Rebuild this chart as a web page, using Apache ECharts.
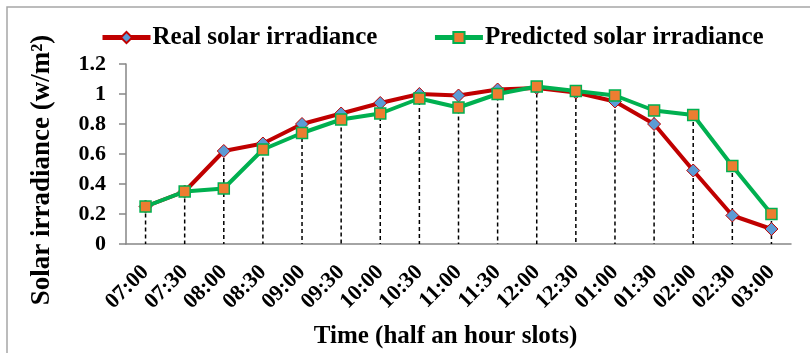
<!DOCTYPE html>
<html>
<head>
<meta charset="utf-8">
<script src="https://cdn.jsdelivr.net/npm/echarts@6/dist/echarts.min.js"></script>
<style>
  html, body { margin: 0; padding: 0; background: #fff; }
  #chart { width: 810px; height: 353px; }
</style>
</head>
<body>
<div id="chart"></div>
<script>
const SERIF = '"Liberation Serif", "Times New Roman", serif'

const timeSlots = ['07:00', '07:30', '08:00', '08:30', '09:00', '09:30', '10:00', '10:30', '11:00',
  '11:30', '12:00', '12:30', '01:00', '01:30', '02:00', '02:30', '03:00']
const realIrradiance = [0.25, 0.35, 0.62, 0.67, 0.80, 0.87, 0.94, 1.00, 0.99,
  1.03, 1.04, 1.01, 0.95, 0.80, 0.49, 0.19, 0.10]
const predictedIrradiance = [0.25, 0.35, 0.37, 0.63, 0.74, 0.83, 0.87, 0.97, 0.91,
  1.00, 1.05, 1.02, 0.99, 0.89, 0.86, 0.52, 0.20]

// drop lines go down from the higher of the two points
const dropTops = timeSlots.map((t, i) => [i, Math.max(realIrradiance[i], predictedIrradiance[i])])

const chart = echarts.init(document.getElementById('chart'), null, { renderer: 'canvas' })

chart.setOption({
  animation: false,
  backgroundColor: '#fff',
  graphic: [{
    type: 'rect',
    shape: { x: 7, y: 7, width: 900, height: 900 },
    style: { fill: 'none', stroke: '#a6a6a6', lineWidth: 1.5 },
    silent: true,
  }],
  legend: {
    left: 95,
    top: 20,
    itemWidth: 48,
    itemHeight: 14,
    itemGap: 55,
    lineStyle: { width: 5 },
    data: ['Real solar irradiance', 'Predicted solar irradiance'],
    textStyle: { fontFamily: SERIF, fontWeight: 'bold', fontSize: 25, color: '#000', padding: [0, 0, 0, -3] },
  },
  grid: { left: 126, right: 19, top: 64, bottom: 109, outerBoundsMode: 'none' },
  xAxis: {
    type: 'category',
    data: timeSlots,
    boundaryGap: true,
    name: 'Time (half an hour slots)',
    nameLocation: 'middle',
    nameGap: 80,
    nameTextStyle: { fontFamily: SERIF, fontWeight: 'bold', fontSize: 25, color: '#000', padding: [0, 26, 0, 0] },
    axisLine: { lineStyle: { color: '#868686', width: 1.5 } },
    axisTick: { show: false },
    axisLabel: {
      rotate: 45,
      margin: 25,
      interval: 0,
      fontFamily: SERIF,
      fontWeight: 'bold',
      fontSize: 22,
      color: '#000',
    },
  },
  yAxis: {
    type: 'value',
    min: 0,
    max: 1.2,
    interval: 0.2,
    name: 'Solar irradiance (w/m²)',
    nameLocation: 'middle',
    nameGap: 70,
    nameTextStyle: { fontFamily: SERIF, fontWeight: 'bold', fontSize: 27, color: '#000', padding: [0, 32, 0, 0] },
    axisLine: { show: true, lineStyle: { color: '#868686', width: 1.5 } },
    axisTick: { show: true, inside: false, length: 7, lineStyle: { color: '#868686', width: 1.5 } },
    splitLine: { show: false },
    axisLabel: {
      margin: 20,
      fontFamily: SERIF,
      fontWeight: 'bold',
      fontSize: 22,
      color: '#000',
    },
  },
  series: [
    {
      type: 'custom',
      name: 'drop',
      z: 1,
      silent: true,
      data: dropTops,
      renderItem(params, api) {
        const top = api.coord([api.value(0), api.value(1)])
        const bottom = api.coord([api.value(0), 0])
        return {
          type: 'line',
          shape: { x1: top[0], y1: top[1], x2: bottom[0], y2: bottom[1] },
          style: { stroke: '#000', lineWidth: 1.5, lineDash: [4, 3] },
        }
      },
    },
    {
      name: 'Real solar irradiance',
      type: 'line',
      z: 3,
      data: realIrradiance,
      symbol: 'diamond',
      symbolSize: 13,
      lineStyle: { color: '#c00000', width: 4 },
      itemStyle: { color: '#5b9bd5', borderColor: '#c00000', borderWidth: 1 },
    },
    {
      name: 'Predicted solar irradiance',
      type: 'line',
      z: 4,
      data: predictedIrradiance,
      symbol: 'rect',
      symbolSize: 11,
      lineStyle: { color: '#00b050', width: 4 },
      itemStyle: { color: '#ed7d31', borderColor: '#00b050', borderWidth: 1.5 },
    },
  ],
})
</script>
</body>
</html>
